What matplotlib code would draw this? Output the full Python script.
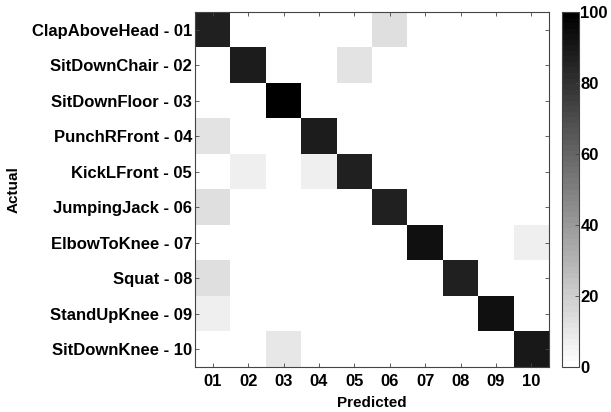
import numpy as np
import matplotlib
matplotlib.use('Agg')
import matplotlib.pyplot as plt
from matplotlib.colors import ListedColormap

# Confusion matrix (rows = actual, columns = predicted), in percent
actions = ['ClapAboveHead', 'SitDownChair', 'SitDownFloor', 'PunchRFront', 'KickLFront',
           'JumpingJack', 'ElbowToKnee', 'Squat', 'StandUpKnee', 'SitDownKnee']
codes = ['01', '02', '03', '04', '05', '06', '07', '08', '09', '10']

row_01 = [86, 0, 0, 0, 0, 14, 0, 0, 0, 0]
row_02 = [0, 88, 0, 0, 12, 0, 0, 0, 0, 0]
row_03 = [0, 0, 100, 0, 0, 0, 0, 0, 0, 0]
row_04 = [12, 0, 0, 88, 0, 0, 0, 0, 0, 0]
row_05 = [0, 7, 0, 7, 86, 0, 0, 0, 0, 0]
row_06 = [13, 0, 0, 0, 0, 87, 0, 0, 0, 0]
row_07 = [0, 0, 0, 0, 0, 0, 93, 0, 0, 7]
row_08 = [13, 0, 0, 0, 0, 0, 0, 87, 0, 0]
row_09 = [7, 0, 0, 0, 0, 0, 0, 0, 93, 0]
row_10 = [0, 0, 10, 0, 0, 0, 0, 0, 0, 90]

conf = np.array([row_01, row_02, row_03, row_04, row_05,
                 row_06, row_07, row_08, row_09, row_10], dtype=float)

plt.rcParams['font.family'] = ['Liberation Sans', 'DejaVu Sans']
plt.rcParams['font.weight'] = 'bold'

# MATLAB-like inverted gray map with 64 levels
cmap = ListedColormap(plt.cm.gray_r(np.linspace(0, 1, 64)))

fig = plt.figure(figsize=(6.11, 4.12), dpi=100)
ax = fig.add_axes([195 / 611, 1 - 367 / 412, 354 / 611, 355 / 412])
im = ax.imshow(conf, cmap=cmap, vmin=0, vmax=100, aspect='auto', interpolation='nearest')

ax.set_xticks(np.arange(10))
ax.set_xticklabels(codes, fontsize=12, fontweight='bold')
ax.set_yticks(np.arange(10))
ax.set_yticklabels([a + ' - ' + c for a, c in zip(actions, codes)], fontsize=12, fontweight='bold')
ax.tick_params(direction='in', length=3, width=0.6, top=True, right=True, color='#444444')
ax.tick_params(axis='y', pad=2)
ax.tick_params(axis='x', pad=5)
ax.set_xlabel('Predicted', fontsize=11, fontweight='bold', labelpad=5)
ax.set_ylabel('Actual', fontsize=11, fontweight='bold', labelpad=8)
for s in ax.spines.values():
    s.set_linewidth(0.8)
    s.set_color('#444444')

cax = fig.add_axes([562 / 611, 1 - 367 / 412, 17 / 611, 355 / 412])
cb = fig.colorbar(im, cax=cax, ticks=[0, 20, 40, 60, 80, 100])
cb.ax.tick_params(direction='in', length=3, width=0.6, labelsize=12, pad=1, color='#444444')
cb.outline.set_linewidth(0.8)
cb.outline.set_edgecolor('#444444')
for lbl in cb.ax.get_yticklabels():
    lbl.set_fontweight('bold')

fig.savefig('out.png', dpi=100)
